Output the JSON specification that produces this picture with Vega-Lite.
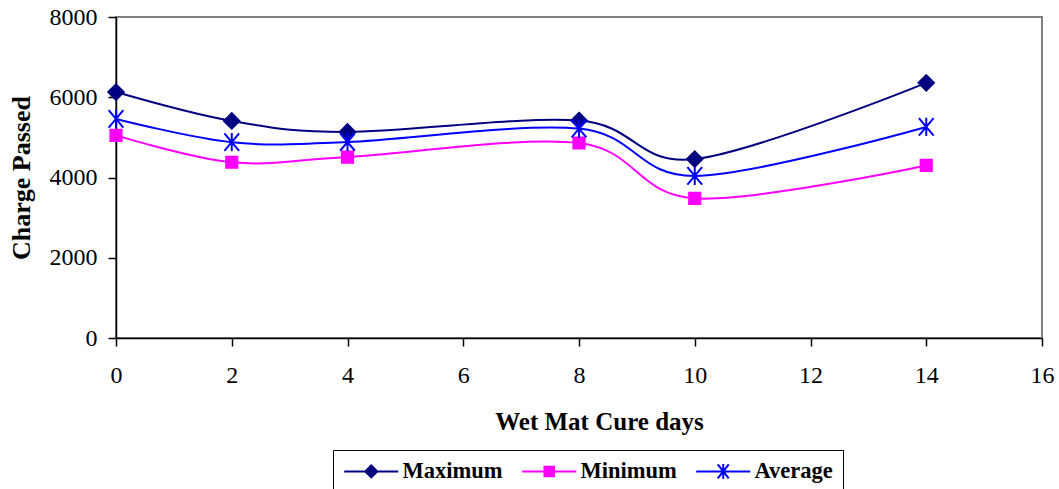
{
  "$schema": "https://vega.github.io/schema/vega-lite/v6.json",
  "width": 926,
  "height": 321,
  "autosize": {"type": "none"},
  "padding": {"left": 116, "top": 17, "right": 17, "bottom": 151},
  "background": "white",
  "config": {
    "view": {"stroke": "#808080", "strokeWidth": 2},
    "font": "Liberation Serif",
    "axis": {
      "labelFont": "Liberation Serif",
      "labelFontSize": 24,
      "labelColor": "black",
      "titleFont": "Liberation Serif",
      "titleFontSize": 25,
      "titleFontWeight": "bold",
      "titleColor": "black",
      "domainColor": "black",
      "domainWidth": 1.5,
      "tickColor": "black",
      "tickSize": 8,
      "tickWidth": 1.5,
      "grid": false
    }
  },
  "resolve": {"scale": {"shape": "independent", "fill": "independent", "stroke": "independent"}},
  "data": {
    "values": [
      {"day": 0, "series": "Maximum", "value": 6130},
      {"day": 2, "series": "Maximum", "value": 5410},
      {"day": 4, "series": "Maximum", "value": 5135},
      {"day": 8, "series": "Maximum", "value": 5420},
      {"day": 10, "series": "Maximum", "value": 4460},
      {"day": 14, "series": "Maximum", "value": 6360},
      {"day": 0, "series": "Minimum", "value": 5050},
      {"day": 2, "series": "Minimum", "value": 4380},
      {"day": 4, "series": "Minimum", "value": 4510},
      {"day": 8, "series": "Minimum", "value": 4860},
      {"day": 10, "series": "Minimum", "value": 3480},
      {"day": 14, "series": "Minimum", "value": 4300},
      {"day": 0, "series": "Average", "value": 5460},
      {"day": 2, "series": "Average", "value": 4880},
      {"day": 4, "series": "Average", "value": 4885},
      {"day": 8, "series": "Average", "value": 5220},
      {"day": 10, "series": "Average", "value": 4040},
      {"day": 14, "series": "Average", "value": 5260}
    ]
  },
  "encoding": {
    "x": {
      "field": "day",
      "type": "quantitative",
      "scale": {"domain": [0, 16], "nice": false, "zero": false},
      "axis": {
        "values": [0, 2, 4, 6, 8, 10, 12, 14, 16],
        "title": "Wet Mat Cure days",
        "labelBaseline": "alphabetic",
        "labelPadding": 36,
        "labelFlush": false,
        "titleBaseline": "alphabetic",
        "titleY": 91,
        "titleX": 483
      }
    },
    "y": {
      "field": "value",
      "type": "quantitative",
      "scale": {"domain": [0, 8000], "nice": false},
      "axis": {
        "values": [0, 2000, 4000, 6000, 8000],
        "format": "d",
        "title": "Charge Passed",
        "titleFontSize": 26,
        "labelPadding": 11,
        "labelFlush": false,
        "titleX": -95,
        "titleBaseline": "middle"
      }
    }
  },
  "layer": [
    {
      "mark": {"type": "line", "interpolate": "cardinal", "tension": 0, "strokeWidth": 2},
      "encoding": {
        "stroke": {
          "field": "series",
          "type": "nominal",
          "scale": {"domain": ["Maximum", "Minimum", "Average"], "range": ["#000080", "#FF00FF", "#0000FF"]},
          "legend": null
        }
      }
    },
    {
      "mark": {"type": "point", "size": 196, "strokeWidth": 2},
      "encoding": {
        "opacity": {"value": 1},
        "shape": {
          "field": "series",
          "type": "nominal",
          "scale": {
            "domain": ["Maximum", "Minimum", "Average"],
            "range": [
              "M0,-1.1L1.1,0L0,1.1L-1.1,0Z",
              "M-0.8,-0.8H0.8V0.8H-0.8Z",
              "M-1.05,-1.25L1.05,1.25M-1.05,1.25L1.05,-1.25M0,-1.3V1.3"
            ]
          },
          "legend": null
        },
        "fill": {
          "field": "series",
          "type": "nominal",
          "scale": {"domain": ["Maximum", "Minimum", "Average"], "range": ["#000080", "#FF00FF", "transparent"]},
          "legend": null
        },
        "stroke": {
          "field": "series",
          "type": "nominal",
          "scale": {"domain": ["Maximum", "Minimum", "Average"], "range": ["#000080", "#FF00FF", "#0000FF"]},
          "legend": null
        }
      }
    },
    {
      "transform": [{"filter": "datum.day < 0"}],
      "mark": {"type": "point", "filled": true, "size": 100, "strokeWidth": 2},
      "encoding": {
        "opacity": {"value": 1},
        "shape": {
          "field": "series",
          "type": "nominal",
          "scale": {
            "domain": ["Maximum", "Minimum", "Average"],
            "range": [
              "M-5.4,0H5.4M0,-1.2L1.2,0L0,1.2L-1.2,0Z",
              "M-5.4,0H5.4M-0.95,-0.95H0.95V0.95H-0.95Z",
              "M-5.4,0H5.4M-1.1,-1.4L1.1,1.4M-1.1,1.4L1.1,-1.4M0,-1.5V1.5"
            ]
          },
          "legend": {
            "orient": "none",
            "legendX": 217,
            "legendY": 433,
            "direction": "horizontal",
            "title": null,
            "padding": 10,
            "strokeColor": "#000000",
            "labelFont": "Liberation Serif",
            "labelFontSize": 22.5,
            "labelFontWeight": "bold",
            "labelColor": "black",
            "symbolSize": 100,
            "symbolOffset": 17,
            "labelOffset": 20,
            "columnPadding": 15,
            "symbolStrokeWidth": 2
          }
        },
        "fill": {
          "field": "series",
          "type": "nominal",
          "scale": {"domain": ["Maximum", "Minimum", "Average"], "range": ["#000080", "#FF00FF", "transparent"]}
        },
        "stroke": {
          "field": "series",
          "type": "nominal",
          "scale": {"domain": ["Maximum", "Minimum", "Average"], "range": ["#000080", "#FF00FF", "#0000FF"]}
        }
      }
    }
  ]
}
